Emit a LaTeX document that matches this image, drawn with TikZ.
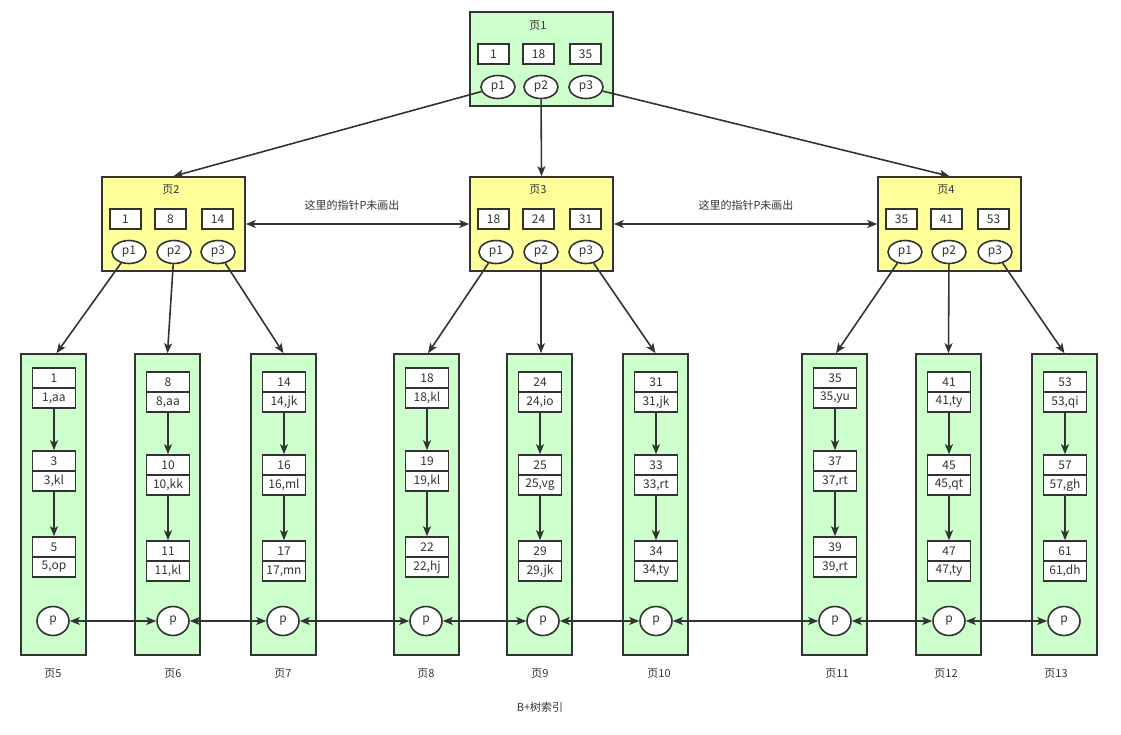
\documentclass[tikz,border=0pt]{standalone}
\usepackage{fontspec}
\setmainfont{Noto Sans CJK SC}
\usetikzlibrary{arrows.meta,positioning,calc,shapes.geometric}
\definecolor{lgreen}{HTML}{CCFFCC}
\definecolor{lyellow}{HTML}{FFFF99}
\definecolor{ink}{HTML}{333333}
\begin{document}
\begin{tikzpicture}[x=1pt,y=-1pt,
  every node/.style={font=\fontsize{12}{14}\selectfont, text=ink},
  lw/.style={line width=1.6pt},
  page/.style={draw=ink, lw, inner sep=0pt, minimum width=143pt, minimum height=94pt},
  greenpage/.style={page, fill=lgreen},
  yellowpage/.style={page, fill=lyellow},
  leafpage/.style={draw=ink, lw, fill=lgreen, inner sep=0pt, minimum width=65pt, minimum height=301pt},
  keybox/.style={draw=ink, lw, fill=white, inner sep=0pt, minimum width=31pt, minimum height=20pt},
  halfbox/.style={draw=ink, lw, fill=white, inner sep=0pt, minimum width=43pt, minimum height=20pt},
  ptr/.style={draw=ink, lw, fill=white, ellipse, inner sep=0pt, minimum width=34pt, minimum height=23pt},
  lptr/.style={draw=ink, lw, fill=white, ellipse, inner sep=0pt, minimum width=32pt, minimum height=29pt},
  tip/.tip={Stealth[length=10pt,width=8pt,inset=2.5pt]},
  conn/.style={draw=ink, lw, -tip},
  dconn/.style={draw=ink, lw, tip-tip},
  lbl/.style={font=\fontsize{11}{13}\selectfont},
]
\useasboundingbox (0,0) rectangle (1121,734);

% ---------- top page ----------
\node[greenpage] (pg1) at (541.5,59) {};
\node[lbl] (t1) at (538,26) {页1};
\node[keybox] (a1) at (493.5,54) {1};
\node[keybox] (a2) at (538.5,54) {18};
\node[keybox] (a3) at (585.5,54) {35};
\node[ptr] (pp1) at (498,87) {p1};
\node[ptr] (pp2) at (541,87) {p2};
\node[ptr] (pp3) at (586,87) {p3};

% ---------- middle pages ----------
\node[yellowpage] (pg2) at (173.5,224) {};
\node[lbl] (t2) at (171,190) {页2};
\node[keybox] (b1) at (125.5,219) {1};
\node[keybox] (b2) at (170.5,219) {8};
\node[keybox] (b3) at (217.5,219) {14};
\node[ptr] (q1) at (129,252) {p1};
\node[ptr] (q2) at (174,252) {p2};
\node[ptr] (q3) at (218,252) {p3};

\node[yellowpage] (pg3) at (541.5,224) {};
\node[lbl] (t3) at (538,190) {页3};
\node[keybox] (c1) at (493.5,219) {18};
\node[keybox] (c2) at (538.5,219) {24};
\node[keybox] (c3) at (585.5,219) {31};
\node[ptr] (r1) at (496,252) {p1};
\node[ptr] (r2) at (541,252) {p2};
\node[ptr] (r3) at (586,252) {p3};

\node[yellowpage] (pg4) at (949.5,224) {};
\node[lbl] (t4) at (946,190) {页4};
\node[keybox] (d1) at (901.5,219) {35};
\node[keybox] (d2) at (946.5,219) {41};
\node[keybox] (d3) at (993.5,219) {53};
\node[ptr] (s1) at (905,252) {p1};
\node[ptr] (s2) at (949,252) {p2};
\node[ptr] (s3) at (995,252) {p3};

\node[lbl] (n1) at (352,205) {这里的指针P未画出};
\node[lbl] (n2) at (746,205) {这里的指针P未画出};

% ---------- leaves ----------
\foreach \n/\cx/\px/\yo/\ka/\va/\kb/\vb/\kc/\vc/\lx in {
  5/53.5/53/368/1/{1,aa}/3/{3,kl}/5/{5,op}/53,
  6/167.5/173/372/8/{8,aa}/10/{10,kk}/11/{11,kl}/173,
  7/283.5/283/372/14/{14,jk}/16/{16,ml}/17/{17,mn}/283,
  8/426.5/426/368/18/{18,kl}/19/{19,kl}/22/{22,hj}/426,
  9/539.5/543/372/24/{24,io}/25/{25,vg}/29/{29,jk}/540,
  10/655.5/656/372/31/{31,jk}/33/{33,rt}/34/{34,ty}/659,
  11/834.5/835/368/35/{35,yu}/37/{37,rt}/39/{39,rt}/837,
  12/948.5/949/372/41/{41,ty}/45/{45,qt}/47/{47,ty}/946,
  13/1064.5/1064/372/53/{53,qi}/57/{57,gh}/61/{61,dh}/1056}{
  \node[leafpage] (L\n) at (\cx,504.5) {};
  \node[halfbox] (L\n a) at (\cx+0.5,\yo+10) {\ka};
  \node[halfbox] (L\n av) at (\cx+0.5,\yo+30) {\va};
  \node[halfbox] (L\n b) at (\cx+0.5,\yo+93) {\kb};
  \node[halfbox] (L\n bv) at (\cx+0.5,\yo+113) {\vb};
  \node[halfbox] (L\n c) at (\cx+0.5,\yo+179) {\kc};
  \node[halfbox] (L\n cv) at (\cx+0.5,\yo+199) {\vc};
  \draw[conn] (L\n av.south) -- (L\n b.north);
  \draw[conn] (L\n bv.south) -- (L\n c.north);
  \node[lptr] (P\n) at (\px,621) {p};
  \node[lbl] (T\n) at (\lx,674) {页\n};
}

\node[lbl] (title) at (540,707) {B+树索引};

% ---------- connectors ----------
\draw[conn] (pp1) -- (pg2.north);
\draw[conn] (pp2) -- (pg3.north);
\draw[conn] (pp3) -- (pg4.north);

\draw[dconn] (pg2.east |- 0,224) -- (pg3.west |- 0,224);
\draw[dconn] (pg3.east |- 0,224) -- (pg4.west |- 0,224);

\draw[conn] (q1) -- ($(L5.north)+(3,0)$);
\draw[conn] (q2) -- (L6.north);
\draw[conn] (q3) -- (L7.north);
\draw[conn] (r1) -- ($(L8.north)+(1.5,0)$);
\draw[conn] (r2) -- ($(L9.north)+(1.5,0)$);
\draw[conn] (r3) -- (L10.north);
\draw[conn] (s1) -- ($(L11.north)+(1.5,0)$);
\draw[conn] (s2) -- (L12.north);
\draw[conn] (s3) -- (L13.north);

\draw[dconn] (P5) -- (P6);
\draw[dconn] (P6) -- (P7);
\draw[dconn] (P7) -- (P8);
\draw[dconn] (P8) -- (P9);
\draw[dconn] (P9) -- (P10);
\draw[dconn] (P10) -- (P11);
\draw[dconn] (P11) -- (P12);
\draw[dconn] (P12) -- (P13);
\end{tikzpicture}
\end{document}
